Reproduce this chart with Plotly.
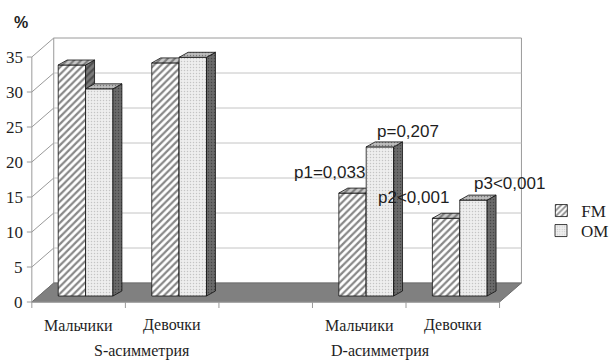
import plotly.graph_objects as go

# ---------------- data ----------------
categories = ["Мальчики", "Девочки", "", "Мальчики", "Девочки"]
groups = ["S-асимметрия", "D-асимметрия"]
bar_slots = [0, 1, 3, 4]            # category slots that hold bars
fm_values = [33.0, 33.3, 14.7, 11.1]
om_values = [29.6, 34.1, 21.3, 13.7]
series_names = ["FM", "OM"]
p_labels = ["p1=0,033", "p=0,207", "p2<0,001", "p3<0,001"]
y_ticks = [0, 5, 10, 15, 20, 25, 30, 35]

# ---------------- geometry (pseudo-3D frame) ----------------
W, H = 614, 362
PX_PER_CAT = 94.0
PX_PER_PCT = 7.0
ORIGIN_PX = (32, 302)          # front-left corner of the floor


def xu(px):
    return px / PX_PER_CAT


def yu(px):
    return px / PX_PER_PCT


X_END = len(categories) - 0.5
X_RANGE = [-0.5 - xu(ORIGIN_PX[0]), -0.5 + xu(W - ORIGIN_PX[0])]
Y_RANGE = [-yu(H - ORIGIN_PX[1]), yu(ORIGIN_PX[1])]
DEPTH_X, DEPTH_Y = xu(22), yu(19)      # floor depth
BAR_IN_X, BAR_IN_Y = xu(7), yu(6)      # bars stand this far into the floor
BAR_DX, BAR_DY = xu(9), yu(5)          # bar thickness
BAR_W = xu(27.5)
Y_MAX = y_ticks[-1]

GRID = "#c4c4c4"
FRAME = "#9a9a9a"
TEXT = "#1e1e1e"
SERIF = "Liberation Serif, Times New Roman, serif"
SANS = "Liberation Sans, Arial, sans-serif"

styles = {
    "FM": dict(shape="/", fg="#111111", front="#ffffff", top="#c8c8c8", side="#7a7a7a",
               size=5, solidity=0.45, legend="legend", legend_y=211),
    "OM": dict(shape=".", fg="#9a9a9a", front="#eeeeee", top="#bdbdbd", side="#6a6a6a",
               size=3, solidity=0.2, legend="legend2", legend_y=231),
}


def bar_faces(xs, vals):
    top_x, top_y, side_x, side_y = [], [], [], []
    for xc, v in zip(xs, vals):
        x0, x1 = xc - BAR_W / 2, xc + BAR_W / 2
        b, t = BAR_IN_Y, BAR_IN_Y + v
        top_x += [x0, x1, x1 + BAR_DX, x0 + BAR_DX, x0, None]
        top_y += [t, t, t + BAR_DY, t + BAR_DY, t, None]
        side_x += [x1, x1 + BAR_DX, x1 + BAR_DX, x1, x1, None]
        side_y += [b, b + BAR_DY, t + BAR_DY, t, b, None]
    return top_x, top_y, side_x, side_y


fig = go.Figure()

series = [("FM", fm_values, -1, "x", "y"), ("OM", om_values, 1, "x2", "y2")]
for name, vals, sign, xa, ya in series:
    st = styles[name]
    xs = [s + BAR_IN_X + sign * BAR_W / 2 for s in bar_slots]
    pat = dict(shape=st["shape"], fgcolor=st["fg"], size=st["size"], solidity=st["solidity"])
    fig.add_trace(go.Bar(
        x=xs, y=vals, base=BAR_IN_Y, width=BAR_W, name=name, legend=st["legend"],
        marker=dict(color=st["front"], line=dict(color="#111111", width=0.8),
                    pattern=dict(pat, bgcolor=st["front"])),
        xaxis=xa, yaxis=ya, hoverinfo="skip",
    ))
    tx, ty, sx, sy = bar_faces(xs, vals)
    fig.add_trace(go.Scatter(
        x=sx, y=sy, mode="lines", fill="toself", fillcolor=st["side"],
        fillpattern=dict(pat, bgcolor=st["side"], fgcolor="#222222"),
        line=dict(color="#111111", width=0.8), showlegend=False,
        xaxis=xa, yaxis=ya, hoverinfo="skip",
    ))
    fig.add_trace(go.Scatter(
        x=tx, y=ty, mode="lines", fill="toself", fillcolor=st["top"],
        fillpattern=dict(pat, bgcolor=st["top"], fgcolor="#333333"),
        line=dict(color="#111111", width=0.8), showlegend=False,
        xaxis=xa, yaxis=ya, hoverinfo="skip",
    ))

# ---------------- frame: walls, floor, grid ----------------
shapes = []
bx0, bx1 = -0.5 + DEPTH_X, X_END + DEPTH_X
shapes.append(dict(type="rect", x0=bx0, x1=bx1, y0=DEPTH_Y, y1=Y_MAX + DEPTH_Y,
                   fillcolor="white", line=dict(color=FRAME, width=1), layer="below"))
for v in y_ticks[1:-1]:
    shapes.append(dict(type="line", x0=bx0, x1=bx1, y0=v + DEPTH_Y, y1=v + DEPTH_Y,
                       line=dict(color=GRID, width=1), layer="below"))
for v in y_ticks:
    shapes.append(dict(type="line", x0=-0.5, x1=bx0, y0=v, y1=v + DEPTH_Y,
                       line=dict(color=FRAME, width=1), layer="below"))
    shapes.append(dict(type="line", x0=-0.5 - xu(5), x1=-0.5, y0=v, y1=v,
                       line=dict(color=FRAME, width=1), layer="below"))
shapes.append(dict(type="line", x0=-0.5, x1=-0.5, y0=0, y1=Y_MAX,
                   line=dict(color=FRAME, width=1), layer="below"))
floor = (f"M {-0.5} 0 L {X_END} 0 L {X_END + DEPTH_X} {DEPTH_Y} "
         f"L {bx0} {DEPTH_Y} Z")
shapes.append(dict(type="path", path=floor, fillcolor="#808080",
                   line=dict(color="#6e6e6e", width=1), layer="below"))
shapes.append(dict(type="line", x0=-0.5, x1=X_END, y0=0, y1=0,
                   line=dict(color=FRAME, width=1), layer="below"))
for k in range(len(categories) + 1):
    shapes.append(dict(type="line", x0=k - 0.5, x1=k - 0.5, y0=0, y1=-yu(6),
                       line=dict(color=FRAME, width=1), layer="below"))

# ---------------- text ----------------
ann = []
for v in y_ticks:
    ann.append(dict(x=-0.5 - xu(7), y=v, text=str(v), xanchor="right", yanchor="middle",
                    showarrow=False, font=dict(family=SERIF, size=17, color=TEXT)))
for i, lab in enumerate(categories):
    if lab:
        ann.append(dict(x=i, y=-yu(23), text=lab, xanchor="center", yanchor="middle",
                        showarrow=False, font=dict(family=SERIF, size=16, color=TEXT)))
group_label_x = [0.68, 3.23]
for gx, lab in zip(group_label_x, groups):
    ann.append(dict(x=gx, y=-yu(49), text=lab, xanchor="center", yanchor="middle",
                    showarrow=False, font=dict(family=SERIF, size=16, color=TEXT)))
p_label_pos = [(2.68, 18.57), (3.52, 24.29), (3.585, 15.0), (4.606, 16.86)]
for (px_, py_), lab in zip(p_label_pos, p_labels):
    ann.append(dict(x=px_, y=py_, text=lab, xanchor="center", yanchor="middle",
                    showarrow=False, font=dict(family=SANS, size=17, color=TEXT)))
ann.append(dict(x=-0.617, y=39.86, text="<b>%</b>", xanchor="center", yanchor="middle",
                showarrow=False, font=dict(family=SANS, size=16, color=TEXT)))

axis_common = dict(visible=False, fixedrange=True)


def legend_box(y_px):
    return dict(x=544 / W, xanchor="left", y=1 - y_px / H, yanchor="middle",
                bgcolor="rgba(0,0,0,0)", borderwidth=0,
                font=dict(family=SERIF, size=17, color=TEXT))


fig.update_layout(
    width=W, height=H,
    margin=dict(l=0, r=0, t=0, b=0),
    paper_bgcolor="white", plot_bgcolor="rgba(0,0,0,0)",
    barmode="overlay",
    xaxis=dict(range=X_RANGE, **axis_common),
    yaxis=dict(range=Y_RANGE, **axis_common),
    xaxis2=dict(range=X_RANGE, overlaying="x", **axis_common),
    yaxis2=dict(range=Y_RANGE, overlaying="y", **axis_common),
    shapes=shapes,
    annotations=ann,
    showlegend=True,
    legend=legend_box(styles["FM"]["legend_y"]),
    legend2=legend_box(styles["OM"]["legend_y"]),
)

fig.write_html("out.html")
